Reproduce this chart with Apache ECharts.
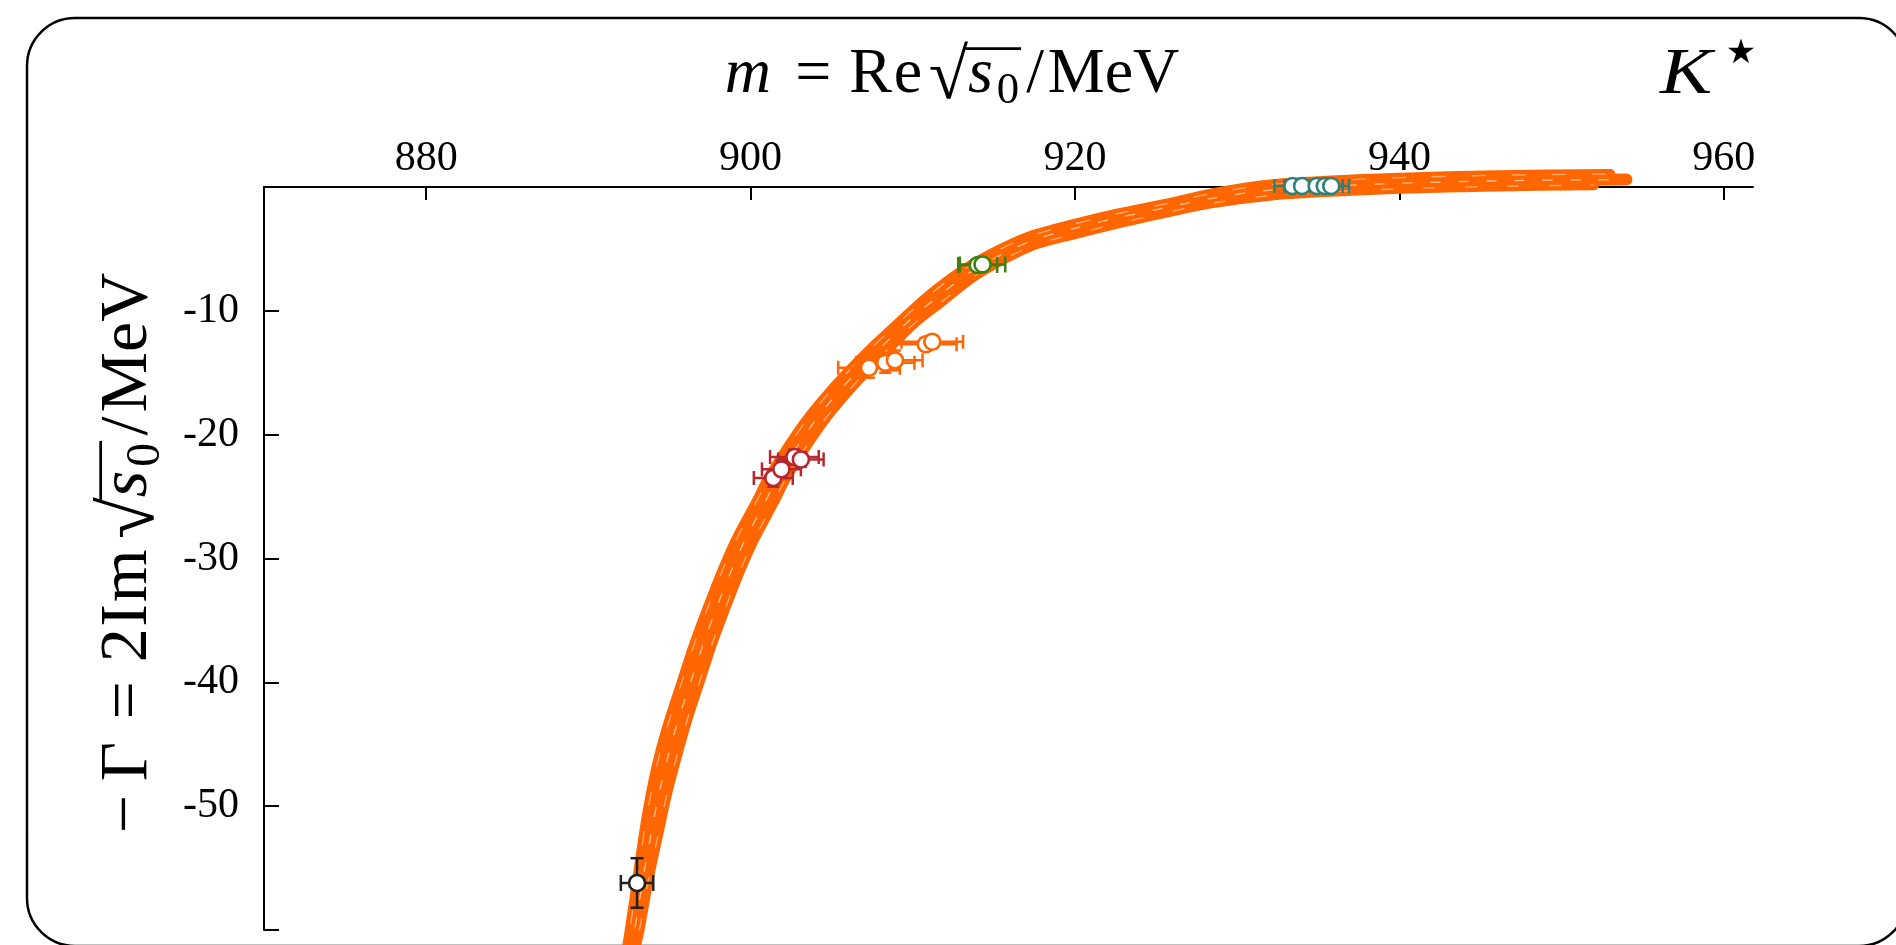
<!DOCTYPE html>
<html>
<head>
<meta charset="utf-8">
<title>K* pole trajectory</title>
<script src="https://cdn.jsdelivr.net/npm/echarts@6/dist/echarts.min.js"></script>
<style>
  html, body { margin: 0; padding: 0; background: #fff; }
  #chart { width: 1896px; height: 945px; }
</style>
</head>
<body>
<div id="chart"></div>
<script>
// ---- axis ticks ----
const massTicks = [880, 900, 920, 940, 960];
const widthRange = { min: -60, max: 0, step: 10 };

// ---- bootstrap pole trajectories [Re sqrt(s0), 2 Im sqrt(s0)] ----
const trajLeft = [[892.3,-62],[892.55,-60],[893.0,-56],[893.45,-52],[893.85,-49],[894.35,-46],[895.0,-43],[895.75,-40],[896.5,-37],[897.35,-34],[898.25,-31],[899.1,-28.5],[900.4,-25.3],[901.05,-23.6],[902.05,-21.5],[903.35,-19],[904.45,-17.2],[905.95,-15],[907.45,-13],[909.1,-11],[911.0,-8.75],[913.1,-6.7],[915.2,-5.15],[917.25,-3.95],[919.9,-3.0],[922.8,-2.1],[925.8,-1.3],[928.5,-0.5],[932.0,0.2],[935.5,0.5],[940.0,0.75],[946.0,0.95],[953.0,1.05]];
const trajCentre = [[892.55,-62],[892.85,-60],[893.35,-56],[893.9,-52],[894.35,-49],[894.9,-46],[895.55,-43],[896.3,-40],[897.05,-37],[897.9,-34],[898.8,-31],[899.65,-28.5],[900.95,-25.3],[901.6,-23.6],[902.6,-21.5],[903.9,-19],[905.0,-17.2],[906.5,-15],[908.0,-13],[909.6,-11],[911.4,-9],[913.4,-7],[915.4,-5.5],[917.4,-4.3],[919.8,-3.4],[922.6,-2.5],[925.5,-1.7],[928.5,-0.9],[932.0,-0.25],[935.5,0.05],[940.0,0.3],[946.0,0.5],[954.0,0.6]];
const trajRight = [[892.8,-62],[893.15,-60],[893.7,-56],[894.35,-52],[894.85,-49],[895.45,-46],[896.1,-43],[896.85,-40],[897.6,-37],[898.45,-34],[899.35,-31],[900.2,-28.5],[901.5,-25.3],[902.15,-23.6],[903.15,-21.5],[904.45,-19],[905.55,-17.2],[907.05,-15],[908.55,-13],[910.1,-11],[911.8,-9.25],[913.7,-7.3],[915.6,-5.85],[917.55,-4.65],[920.0,-3.8],[922.8,-2.9],[925.5,-2.1],[928.5,-1.3],[932.0,-0.7],[935.5,-0.4],[940.0,-0.15],[946.0,0.05],[952.0,0.15]];

// ---- lattice poles per ensemble: [m, -Gamma, sigma_m, sigma_Gamma] ----
const polesBlack  = [[893.0,-56.2,1.0,2.0]];
const polesRed    = [[901.4,-23.5,1.2,0.7],[901.9,-22.8,1.2,0.7],[902.7,-21.8,1.5,0.6],[903.1,-22.0,1.4,0.6]];
const polesOrange = [[907.3,-14.6,1.9,0.8],[908.3,-14.2,1.8,0.8],[908.9,-14.0,1.7,0.8],[910.8,-12.7,1.9,0.5],[911.2,-12.5,1.9,0.5]];
const polesGreen  = [[914.0,-6.3,1.2,0.4],[914.3,-6.25,1.4,0.4]];
const polesTeal   = [[933.4,0.08,1.1,0.05],[934.0,0.08,1.1,0.05],[934.9,0.08,1.1,0.05],[935.4,0.08,1.1,0.05],[935.8,0.08,1.1,0.05]];

const BAND = '#ff6600';
const SERIF = '"Liberation Serif", "DejaVu Serif", serif';

// ---- text layout helper for the math-style axis titles ----
const measureCtx = document.createElement('canvas').getContext('2d');
function textWidth(t, font) { measureCtx.font = font; return measureCtx.measureText(t).width; }

// pieces laid out left to right on a common baseline (y = 0);
// pre/gap are extra spacing in em, "over" pieces get a radical bar
function mathLine(pieces, fs) {
  let x = 0; const kids = []; let o0 = null, o1 = null, radEnd = null;
  pieces.forEach(p => {
    x += (p.pre || 0) * fs;
    const size = fs * (p.scale || 1);
    const font = (p.it ? 'italic ' : '') + size + 'px ' + SERIF;
    const w = textWidth(p.t, font);
    const base = (p.shift || 0) * fs;
    kids.push({ type: 'text', x: x, y: base - 0.33 * size,
      style: { text: p.t, font: font, fill: '#000', align: 'left', verticalAlign: 'middle' } });
    if (p.rad) radEnd = x + w - 0.04 * fs;
    if (p.over) { if (o0 === null) o0 = radEnd !== null ? radEnd : x - 2; o1 = x + w + 2; }
    x += w + (p.gap || 0) * fs;
  });
  if (o0 !== null) {
    kids.push({ type: 'line', shape: { x1: o0, y1: -0.74 * fs, x2: o1, y2: -0.74 * fs },
      style: { stroke: '#000', lineWidth: Math.max(2, fs * 0.04) } });
  }
  kids.forEach(k => {
    if (k.type === 'text') k.x -= x / 2;
    else { k.shape.x1 -= x / 2; k.shape.x2 -= x / 2; }
  });
  return kids;
}

const radicalPart = [
  { t: '√', scale: 1.12, shift: 0.1, pre: 0.1, rad: true },
  { t: 's', it: true, over: true, gap: 0.06 },
  { t: '0', scale: 0.7, shift: 0.16, over: true, gap: 0.05 },
  { t: '/', pre: 0.06, gap: 0.06 }, { t: 'M' }, { t: 'e' }, { t: 'V' }
];

const xTitle = mathLine([
  { t: 'm', it: true, gap: 0.1 }, { t: '=', pre: 0.28, gap: 0.28 },
  { t: 'R', gap: 0.03 }, { t: 'e' }
].concat(radicalPart), 64);

const yTitle = mathLine([
  { t: '−', gap: 0.2 }, { t: 'Γ', gap: 0.05 }, { t: '=', pre: 0.28, gap: 0.28 },
  { t: '2', gap: 0.02 }, { t: 'I', gap: 0.03 }, { t: 'm', gap: 0.05 }
].concat(radicalPart), 68);

// ---- series builders ----
function trajectory(data, width, z) {
  return { type: 'line', data: data, smooth: 0.3, showSymbol: false, clip: false, silent: true,
    lineStyle: { color: BAND, width: width, cap: 'round', join: 'round' }, z: z };
}

// thin light streaks running along the bootstrap bundle
function streak(data, opacity, dash, offset) {
  return { type: 'line', data: data, smooth: 0.3, showSymbol: false, clip: false, silent: true, z: 2,
    lineStyle: { color: '#fff', width: 1.3, opacity: opacity, type: dash, dashOffset: offset } };
}

function errorBars(data, color, capX, capY) {
  return {
    type: 'custom', data: data, clip: false, z: 5, silent: true,
    encode: { x: 0, y: 1 },
    renderItem: function (params, api) {
      const x = api.value(0), y = api.value(1), ex = api.value(2), ey = api.value(3);
      const c = api.coord([x, y]);
      const l = api.coord([x - ex, y])[0], r = api.coord([x + ex, y])[0];
      const t = api.coord([x, y + ey])[1], b = api.coord([x, y - ey])[1];
      const st = { stroke: color, lineWidth: 2.5, fill: null };
      const seg = (x1, y1, x2, y2) => ({ type: 'line', shape: { x1, y1, x2, y2 }, style: st });
      return { type: 'group', children: [
        seg(l, c[1], r, c[1]),
        seg(l, c[1] - capX, l, c[1] + capX),
        seg(r, c[1] - capX, r, c[1] + capX),
        seg(c[0], t, c[0], b),
        seg(c[0] - capY, t, c[0] + capY, t),
        seg(c[0] - capY, b, c[0] + capY, b)
      ] };
    }
  };
}

function poles(data, color, size) {
  return { type: 'scatter', data: data.map(d => [d[0], d[1]]), clip: false, z: 6, silent: true,
    symbol: 'circle', symbolSize: size,
    itemStyle: { color: '#fff', borderColor: color, borderWidth: 2.6, opacity: 1 } };
}

const chart = echarts.init(document.getElementById('chart'), null, { renderer: 'canvas' });

chart.setOption({
  animation: false,
  backgroundColor: '#fff',
  grid: { left: 264, right: 143, top: 187, bottom: 15, containLabel: false },
  xAxis: {
    type: 'value', position: 'top', min: 870, max: 961.8,
    axisLine: { show: true, lineStyle: { color: '#000', width: 2 } },
    axisTick: { show: true, inside: true, length: 13, customValues: massTicks, lineStyle: { color: '#000', width: 2 } },
    axisLabel: { show: true, customValues: massTicks, margin: 7, color: '#000', fontSize: 42, fontFamily: SERIF },
    splitLine: { show: false }
  },
  yAxis: {
    type: 'value', min: widthRange.min, max: widthRange.max, interval: widthRange.step,
    axisLine: { show: true, onZero: false, lineStyle: { color: '#000', width: 2 } },
    axisTick: { show: true, inside: true, length: 15, lineStyle: { color: '#000', width: 2 } },
    axisLabel: { show: true, margin: 25, color: '#000', fontSize: 42, fontFamily: SERIF,
      formatter: v => (v === widthRange.min || v === widthRange.max) ? '' : String(v) },
    splitLine: { show: false }
  },
  graphic: [
    { type: 'rect', z: 0, silent: true,
      shape: { x: 27, y: 18, width: 1880, height: 928, r: 48 },
      style: { fill: null, stroke: '#000', lineWidth: 2.5 } },
    { type: 'group', x: 952, y: 96, children: xTitle, silent: true },
    { type: 'group', x: 151, y: 553, rotation: Math.PI / 2, children: yTitle, silent: true },
    { type: 'text', x: 1660, y: 108, scaleX: 1.2, silent: true,
      style: { text: 'K', font: 'italic 65px ' + SERIF, fill: '#000', align: 'left', verticalAlign: 'bottom' } },
    { type: 'text', x: 1741, y: 54, silent: true,
      style: { text: '★', font: '34px "DejaVu Sans", sans-serif', fill: '#000', align: 'center', verticalAlign: 'middle' } }
  ],
  series: [
    trajectory(trajLeft, 10, 1),
    trajectory(trajRight, 10, 1),
    trajectory(trajCentre, 12, 1),
    streak(trajCentre, 0.6, [10, 18], 0),
    streak(trajLeft, 0.45, [14, 26], 9),
    streak(trajRight, 0.45, [12, 30], 17),
    errorBars(polesBlack, '#222', 8, 6.5), poles(polesBlack, '#222', 16),
    errorBars(polesRed, '#b8262e', 7, 6), poles(polesRed, '#b8262e', 16),
    errorBars(polesOrange, BAND, 7, 6), poles(polesOrange, BAND, 16),
    errorBars(polesGreen, '#3f7f10', 8, 6), poles(polesGreen, '#3f7f10', 16),
    errorBars(polesTeal, '#2f7f7b', 7, 6), poles(polesTeal, '#2f7f7b', 16)
  ]
});
</script>
</body>
</html>
